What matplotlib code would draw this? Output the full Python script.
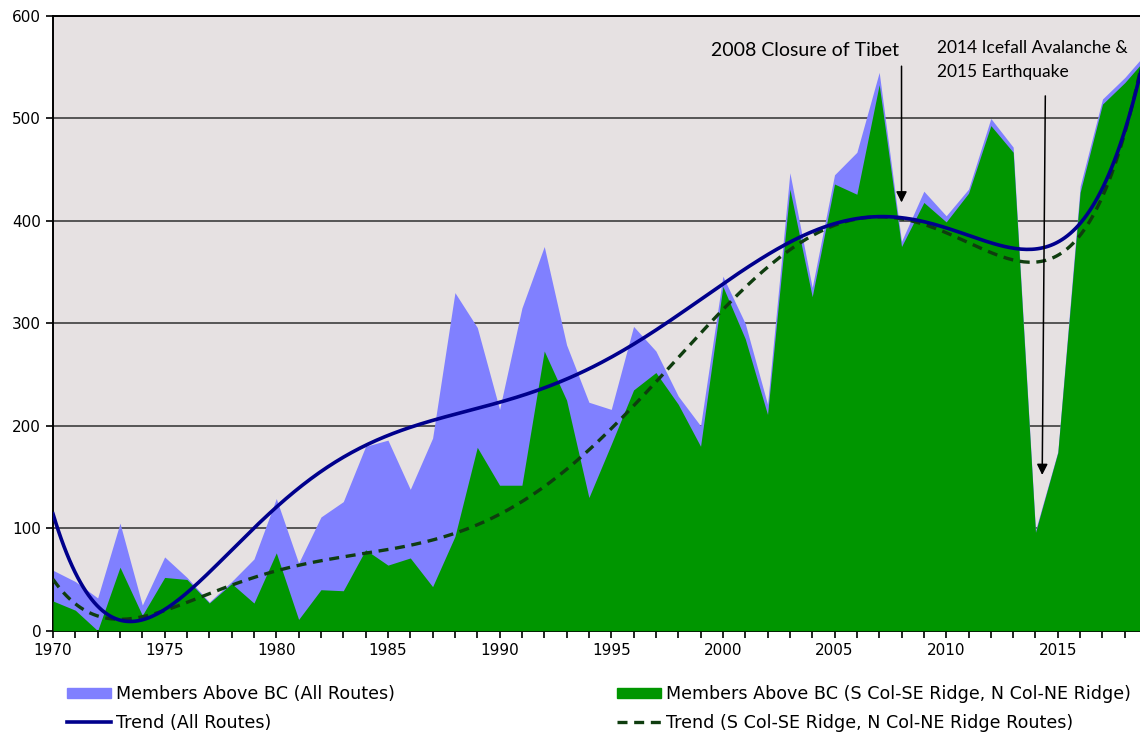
import numpy as np
import matplotlib
matplotlib.use('Agg')
import matplotlib.pyplot as plt
from matplotlib.patches import Patch
from matplotlib.lines import Line2D
from matplotlib.ticker import MultipleLocator

# members above base camp per year
years = np.arange(1970, 2020)
all_routes = [59, 48, 32, 105, 25, 72, 52, 28, 48, 70,
              129, 66, 111, 126, 180, 186, 138, 188, 330, 296,
              216, 315, 375, 279, 223, 216, 297, 273, 229, 200,
              346, 300, 221, 447, 335, 445, 467, 545, 380, 429,
              405, 431, 500, 472, 98, 175, 434, 519, 540, 565]
main_routes = [29, 20, 0, 62, 15, 52, 50, 27, 46, 27,
               76, 11, 40, 39, 79, 64, 71, 43, 92, 179,
               142, 142, 273, 225, 130, 182, 235, 252, 221, 180,
               336, 285, 211, 431, 326, 436, 426, 533, 375, 418,
               399, 427, 493, 467, 96, 174, 428, 514, 535, 560]

labels = ['Members Above BC (All Routes)',
          'Members Above BC (S Col-SE Ridge, N Col-NE Ridge)',
          'Trend (All Routes)',
          'Trend (S Col-SE Ridge, N Col-NE Ridge Routes)']

c_all = '#8080FF'
c_main = '#009600'
c_trend_all = '#00008C'
c_trend_main = '#0F3D0F'

fig = plt.figure(figsize=(11.4, 7.32), dpi=100)
ax = fig.add_axes([53 / 1140, 101.3 / 732, 1087 / 1140, 614.7 / 732])
ax.set_facecolor('#E6E1E2')

ax.fill_between(years, 0, all_routes, color=c_all, lw=0, zorder=2)
ax.fill_between(years, 0, main_routes, color=c_main, lw=0, zorder=3)

# 6th order polynomial trendlines, like the spreadsheet ones
xs = np.linspace(years[0], years[-1], 400)
p_all = np.polyfit(years - 1970, all_routes, 6)
p_main = np.polyfit(years - 1970, main_routes, 6)
ax.plot(xs, np.polyval(p_all, xs - 1970), color=c_trend_all, lw=2.6, zorder=5)
ax.plot(xs, np.polyval(p_main, xs - 1970), color=c_trend_main, lw=2.4,
        dashes=(3, 2), zorder=4)

ax.set_xlim(1970, 2018.68)
ax.set_ylim(0, 600)
ax.xaxis.set_major_locator(MultipleLocator(5))
ax.xaxis.set_minor_locator(MultipleLocator(1))
ax.yaxis.set_major_locator(MultipleLocator(100))
ax.yaxis.grid(True, color='#4a4a4a', lw=1.3)
ax.set_axisbelow(True)
ax.tick_params(axis='both', which='both', direction='out', length=5,
               width=1.2, color='black', labelsize=11)
ax.tick_params(axis='x', pad=4)
ax.spines['right'].set_visible(False)
for s in ['left', 'bottom', 'top']:
    ax.spines[s].set_linewidth(1.4)

# annotations
ax.annotate('', xy=(2008, 418), xytext=(2008, 551),
            arrowprops=dict(arrowstyle='-|>', color='black', lw=1.1,
                            mutation_scale=16, shrinkA=0, shrinkB=0),
            zorder=6)
ax.annotate('', xy=(2014.3, 152), xytext=(2014.44, 522),
            arrowprops=dict(arrowstyle='-|>', color='black', lw=1.1,
                            mutation_scale=16, shrinkA=0, shrinkB=0),
            zorder=6)
ax.text(2003.66, 566, '2008 Closure of Tibet', ha='center', va='center',
        family='Lato', fontsize=14, zorder=7)
ax.text(2009.57, 557, '2014 Icefall Avalanche &\n2015 Earthquake',
        ha='left', va='center', family='Lato', fontsize=12.5,
        linespacing=1.6, zorder=7)

handles = [Patch(color=c_all),
           Line2D([], [], color=c_trend_all, lw=2.6),
           Patch(color=c_main),
           Line2D([], [], color=c_trend_main, lw=2.4, dashes=(3, 2))]
fig.legend(handles, [labels[0], labels[2], labels[1], labels[3]],
           ncol=2, loc='upper left', bbox_to_anchor=(67 / 1140, 1 - 685 / 732),
           frameon=False, fontsize=12.6, handlelength=2.5, handleheight=0.55,
           handletextpad=0.3, columnspacing=12.7, labelspacing=0.6,
           borderpad=0, borderaxespad=0)

fig.savefig('out.png', dpi=100)
